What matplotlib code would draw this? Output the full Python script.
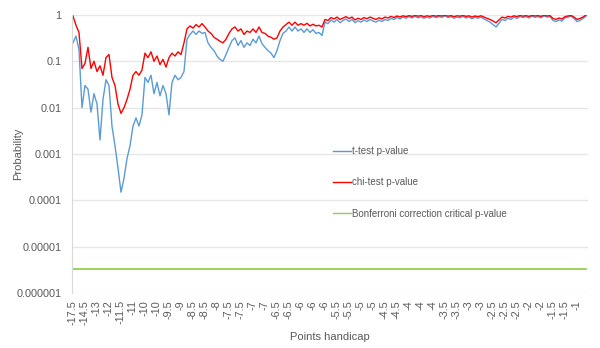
import numpy as np
import matplotlib
matplotlib.use("Agg")
import matplotlib.pyplot as plt

# Tick labels shown on the x axis (one label every 4 samples)
tick_labels = ["-17.5", "-14.5", "-13", "-12", "-11.5", "-11", "-10", "-10", "-9.5", "-9",
               "-8.5", "-8.5", "-8", "-7.5", "-7.5", "-7", "-7", "-6.5", "-6.5", "-6",
               "-6", "-6", "-5.5", "-5.5", "-5", "-5", "-4.5", "-4.5", "-4", "-4",
               "-4", "-3.5", "-3.5", "-3", "-3", "-2.5", "-2.5", "-2.5", "-2", "-2",
               "-1.5", "-1.5", "-1"]
samples_per_tick = 4

# p-values
chi_p = [0.95, 0.6, 0.42, 0.07, 0.09, 0.2, 0.07, 0.1, 0.06, 0.08,
         0.05, 0.12, 0.14, 0.045, 0.03, 0.012, 0.0075, 0.01, 0.015, 0.025,
         0.05, 0.06, 0.05, 0.065, 0.15, 0.12, 0.16, 0.1, 0.13, 0.085,
         0.11, 0.075, 0.12, 0.15, 0.13, 0.16, 0.14, 0.25, 0.5, 0.58,
         0.52, 0.62, 0.55, 0.65, 0.55, 0.45, 0.4, 0.33, 0.3, 0.27,
         0.25, 0.3, 0.4, 0.5, 0.55, 0.45, 0.5, 0.38, 0.45, 0.42,
         0.5, 0.42, 0.55, 0.42, 0.4, 0.35, 0.33, 0.3, 0.32, 0.45,
         0.55, 0.62, 0.7, 0.6, 0.7, 0.6, 0.65, 0.6, 0.66, 0.58,
         0.63, 0.58, 0.6, 0.55, 0.8, 0.76, 0.88, 0.82, 0.9, 0.8,
         0.86, 0.92, 0.84, 0.9, 0.78, 0.85, 0.8, 0.88, 0.83, 0.9,
         0.85, 0.8, 0.87, 0.82, 0.9, 0.86, 0.93, 0.88, 0.95, 0.9,
         0.96, 0.92, 0.97, 0.93, 0.98, 0.94, 0.97, 0.92, 0.96, 0.93,
         0.98, 0.94, 0.97, 0.95, 0.99, 0.94, 0.97, 0.92, 0.96, 0.94,
         0.98, 0.93, 0.96, 0.9, 0.95, 0.92, 0.96, 0.9, 0.85, 0.8,
         0.74, 0.68, 0.78, 0.9, 0.86, 0.93, 0.9, 0.96, 0.92, 0.98,
         0.94, 0.97, 0.93, 0.98, 0.95, 0.97, 0.93, 0.99, 0.95, 0.97,
         0.84, 0.8, 0.86, 0.82, 0.92, 0.95, 0.98, 0.9, 0.8, 0.84,
         0.9, 1.0]

t_p = [0.25, 0.35, 0.18, 0.01, 0.03, 0.025, 0.008, 0.02, 0.012, 0.002,
       0.015, 0.04, 0.03, 0.004, 0.0015, 0.0005, 0.00015, 0.0003, 0.0008, 0.0015,
       0.004, 0.006, 0.004, 0.007, 0.045, 0.035, 0.05, 0.02, 0.035, 0.018,
       0.03, 0.02, 0.007, 0.035, 0.05, 0.04, 0.045, 0.06, 0.3, 0.38,
       0.45, 0.38, 0.45, 0.4, 0.42, 0.25, 0.2, 0.17, 0.13, 0.11,
       0.1, 0.14, 0.2, 0.28, 0.32, 0.22, 0.28, 0.2, 0.25, 0.22,
       0.3, 0.25, 0.35, 0.24, 0.2, 0.17, 0.15, 0.12, 0.17, 0.28,
       0.4, 0.45, 0.55, 0.45, 0.55, 0.45, 0.5, 0.42, 0.5, 0.42,
       0.48, 0.4, 0.42, 0.36, 0.7, 0.65, 0.78, 0.7, 0.8, 0.68,
       0.76, 0.82, 0.72, 0.8, 0.68, 0.75, 0.7, 0.78, 0.72, 0.8,
       0.74, 0.7, 0.77, 0.72, 0.8, 0.76, 0.84, 0.8, 0.88, 0.82,
       0.9, 0.85, 0.92, 0.86, 0.93, 0.87, 0.91, 0.85, 0.9, 0.86,
       0.93, 0.88, 0.92, 0.89, 0.95, 0.88, 0.92, 0.85, 0.9, 0.87,
       0.93, 0.86, 0.9, 0.83, 0.89, 0.85, 0.9, 0.82, 0.76, 0.7,
       0.62, 0.55, 0.66, 0.8, 0.76, 0.85, 0.8, 0.9, 0.84, 0.93,
       0.88, 0.92, 0.86, 0.94, 0.89, 0.92, 0.87, 0.95, 0.9, 0.92,
       0.76, 0.72, 0.78, 0.74, 0.86, 0.9, 0.94, 0.84, 0.72, 0.76,
       0.84, 0.95]

bonferroni_p = 3.3e-6

y_ticks = [1, 0.1, 0.01, 0.001, 0.0001, 0.00001, 0.000001]
y_tick_labels = ["1", "0.1", "0.01", "0.001", "0.0001", "0.00001", "0.000001"]

plt.rcParams['font.family'] = ['Liberation Sans', 'DejaVu Sans']
text_color = "#595959"

fig = plt.figure(figsize=(6.0, 3.48), dpi=100)
ax = fig.add_axes([0.12, 0.158, 0.86, 0.799])

x = np.arange(len(t_p))
ax.plot(x, t_p, color="#5b9bd5", lw=1.0, label="t-test p-value")
ax.plot(x, chi_p, color="#ff0000", lw=1.0, label="chi-test p-value")
ax.plot(x, [bonferroni_p] * len(x), color="#92d050", lw=1.3,
        label="Bonferroni correction critical p-value")

ax.set_yscale("log")
ax.set_ylim(1e-6, 1)
ax.set_xlim(-0.33, len(x) - 0.33)
ax.set_yticks(y_ticks)
ax.set_yticklabels(y_tick_labels)
ax.minorticks_off()

tick_pos = np.arange(len(tick_labels)) * samples_per_tick
ax.set_xticks(tick_pos)
ax.set_xticklabels(tick_labels, rotation=90)

ax.tick_params(axis="both", length=0, labelsize=7.8, colors=text_color)
ax.tick_params(axis="y", pad=7.5)
ax.tick_params(axis="x", pad=5)
ax.grid(axis="y", color="#e6e6e6", lw=1.0)
ax.set_axisbelow(True)
for side in ["top", "right", "bottom"]:
    ax.spines[side].set_visible(False)
ax.spines["left"].set_color("#d9d9d9")

ax.set_xlabel("Points handicap", fontsize=8, color=text_color)
ax.set_ylabel("Probability", fontsize=8, color=text_color)
ax.xaxis.set_label_coords(0.5, -0.140)
ax.yaxis.set_label_coords(-0.095, 0.5)

leg = ax.legend(loc="upper left", bbox_to_anchor=(333 / 600, 1 - 146 / 348),
                bbox_transform=fig.transFigure, frameon=False, fontsize=7,
                handlelength=1.8, handletextpad=0.2, labelspacing=2.2,
                borderpad=0, borderaxespad=0)
for t in leg.get_texts():
    t.set_color(text_color)
for h in leg.get_lines():
    h.set_linewidth(1.0)

fig.savefig("out.png", dpi=100)
